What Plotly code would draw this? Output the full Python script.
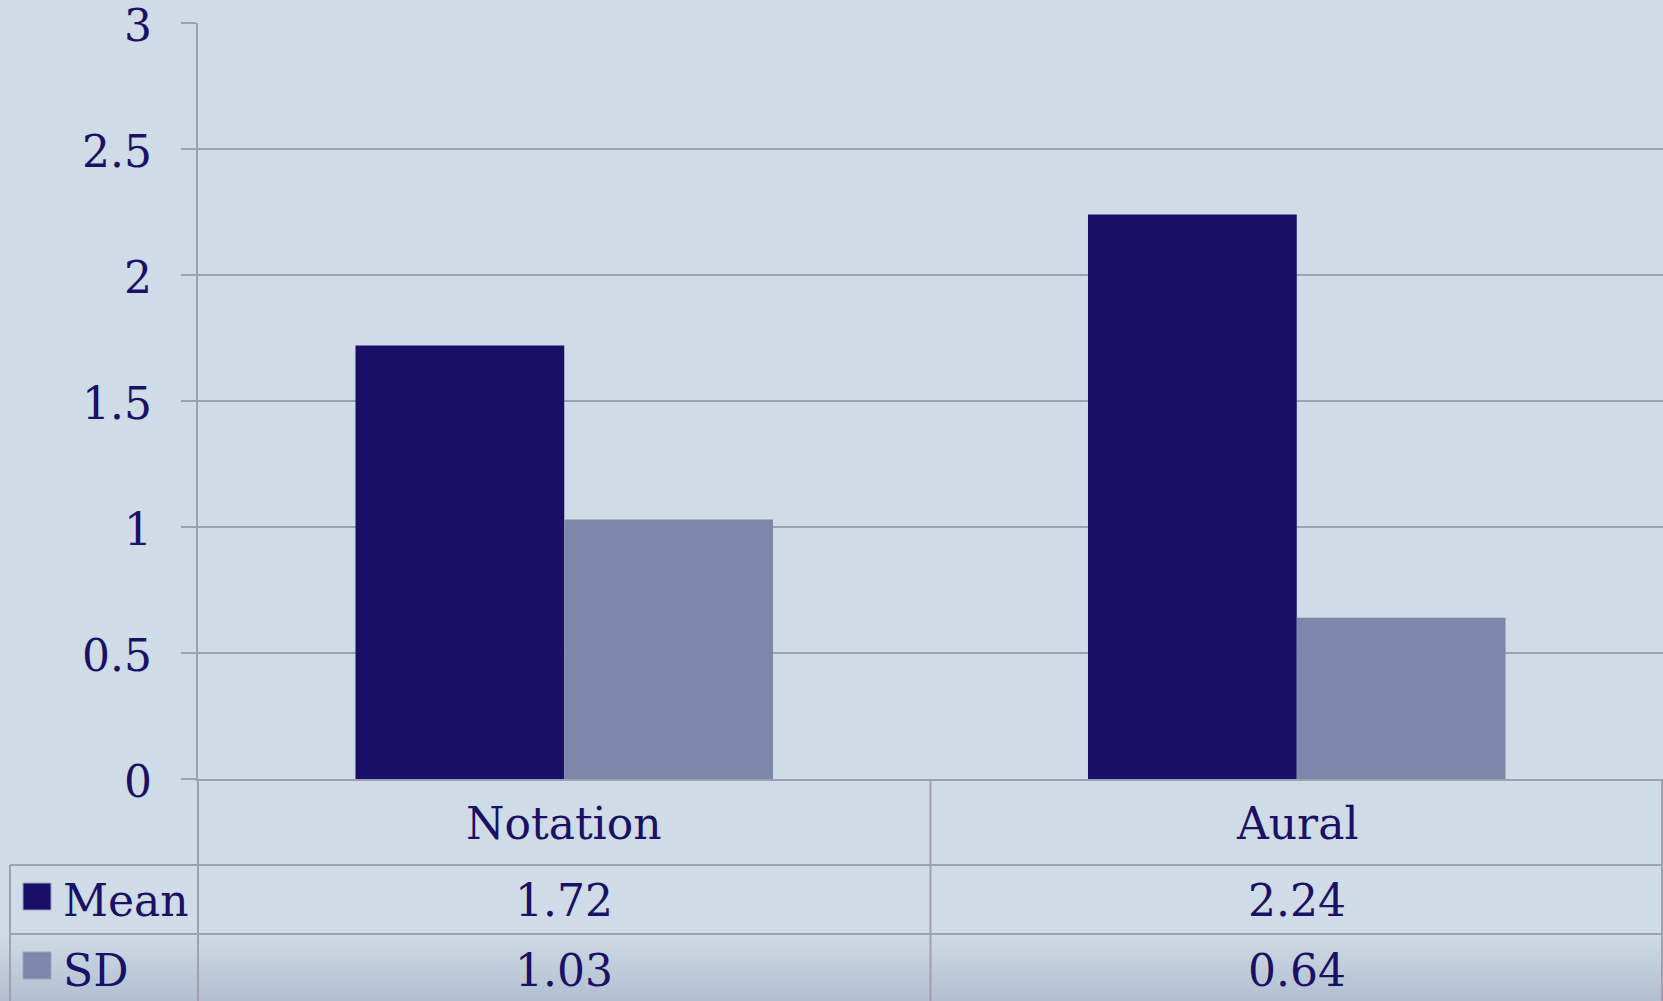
import plotly.graph_objects as go

# Chart data
categories = ["Notation", "Aural"]
series_names = ["Mean", "SD"]
mean_values = [1.72, 2.24]
sd_values = [1.03, 0.64]
y_ticks = [0, 0.5, 1, 1.5, 2, 2.5, 3]

W, H = 1663, 1001
BG = "#CFDBE6"
TEXT = "#1A1066"
GRID = "#A09FB0"
MEAN_C = "#190F67"
SD_C = "#7D87AA"
FONT = "DejaVu Serif"

# plot area in pixels
X0, X1 = 198, 1663
Y_TOP, Y_ZERO = 23, 779


def px(x):
    return x / W


def py(y):
    return 1 - y / H


fig = go.Figure()
fig.add_trace(go.Bar(x=categories, y=mean_values, name=series_names[0],
                     marker=dict(color=MEAN_C, line=dict(width=0))))
fig.add_trace(go.Bar(x=categories, y=sd_values, name=series_names[1],
                     marker=dict(color=SD_C, line=dict(width=0))))

shapes = []

# darker band at the bottom of the page
band_top, band_bot = 936, H
c0 = (0xCD, 0xD9, 0xE4)
c1 = (0xB2, 0xBF, 0xD1)
steps = 32
for i in range(steps):
    t = i / (steps - 1)
    c = tuple(round(a + (b - a) * t) for a, b in zip(c0, c1))
    ya = band_top + (band_bot - band_top) * i / steps
    yb = band_top + (band_bot - band_top) * (i + 1) / steps + 0.5
    shapes.append(dict(type="rect", xref="paper", yref="paper", layer="below",
                       x0=0, x1=1, y0=py(min(yb, H)), y1=py(ya),
                       fillcolor="rgb(%d,%d,%d)" % c, line=dict(width=0)))

line_style = dict(color=GRID, width=2)
# data table grid lines
row_lines = [865, 934]
for y in row_lines:
    shapes.append(dict(type="line", xref="paper", yref="paper",
                       x0=px(10), x1=1, y0=py(y), y1=py(y), line=line_style))
# vertical table lines
divider_x = (X0 + X1) / 2
for x, ytop in [(X0, Y_ZERO), (divider_x, Y_ZERO), (10, 865), (1662, Y_ZERO)]:
    shapes.append(dict(type="line", xref="paper", yref="paper",
                       x0=px(x), x1=px(x), y0=py(ytop), y1=0, line=line_style))

# legend keys inside the table
key_rows = [(883, 910, MEAN_C), (952, 979, SD_C)]
for y0, y1, col in key_rows:
    shapes.append(dict(type="rect", xref="paper", yref="paper",
                       x0=px(23), x1=px(51), y0=py(y1), y1=py(y0),
                       fillcolor=col, line=dict(color="#9AA3BE", width=1)))

annotations = []
col_centers = [X0 + (X1 - X0) * (i + 0.5) / len(categories) for i in range(len(categories))]
row_centers = {"cat": 823, "Mean": 900, "SD": 970}
for cx, cat, m, s in zip(col_centers, categories, mean_values, sd_values):
    annotations.append(dict(x=px(cx), y=py(row_centers["cat"]), text=cat))
    annotations.append(dict(x=px(cx), y=py(row_centers["Mean"]), text=f"{m:.2f}"))
    annotations.append(dict(x=px(cx), y=py(row_centers["SD"]), text=f"{s:.2f}"))
for name in series_names:
    annotations.append(dict(x=px(61), y=py(row_centers[name]), text=name, xanchor="left"))
for a in annotations:
    a.update(xref="paper", yref="paper")

# y tick labels, placed on the value axis
for v in y_ticks:
    annotations.append(dict(x=px(154), xref="paper", y=v, yref="y",
                            text=f"{v:g}", xanchor="right", yshift=-2))

for a in annotations:
    a.update(showarrow=False, font=dict(family=FONT, size=44, color=TEXT))
    a.setdefault("xanchor", "center")
    a["yanchor"] = "middle"

fig.update_layout(
    template="none",
    width=W, height=H, autosize=False,
    margin=dict(l=0, r=0, t=0, b=0, pad=0),
    paper_bgcolor=BG, plot_bgcolor=BG,
    barmode="group", bargap=0.43, bargroupgap=0,
    showlegend=False,
    font=dict(family=FONT, size=44, color=TEXT),
    shapes=shapes, annotations=annotations,
    xaxis=dict(domain=[px(X0), px(X1)], range=[-0.5, 1.5], automargin=False,
               showticklabels=False, ticks="", showgrid=False,
               showline=True, linecolor=GRID, linewidth=2, zeroline=False,
               fixedrange=True),
    yaxis=dict(domain=[py(Y_ZERO), py(Y_TOP)], range=[0, 3], automargin=False,
               tickvals=y_ticks, showticklabels=False,
               showgrid=True, gridcolor=GRID, gridwidth=2,
               showline=True, linecolor=GRID, linewidth=2,
               ticks="outside", ticklen=15, tickwidth=2, tickcolor=GRID,
               zeroline=False, fixedrange=True),
)

fig.write_html("out.html")
